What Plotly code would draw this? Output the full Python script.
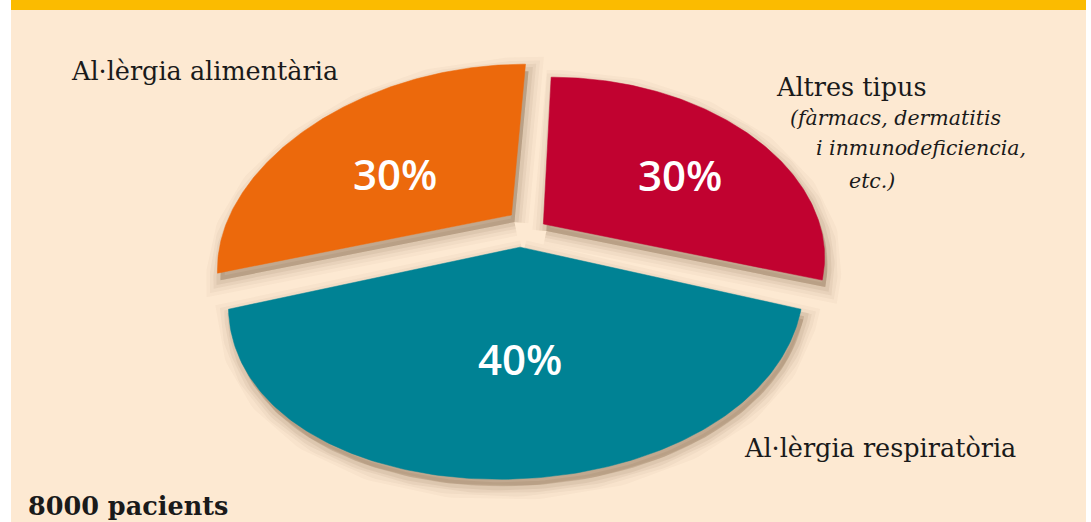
import numpy as np
import plotly.graph_objects as go

# ---- data ----
categories = ["Altres tipus", "Al·lèrgia respiratòria", "Al·lèrgia alimentària"]
values = [30, 40, 30]
total_patients = 8000
note_lines = ["(fàrmacs, dermatitis", "i inmunodeficiencia,", "etc.)"]

# ---- style ----
colors = ["#c10230", "#008294", "#ec690c"]
pulls = [(0.075, 0.0), (0.0, -0.125), (-0.04, 0.05)]    # explode offsets in pie plane
radii = [(0.97, 0.95), (0.95, 1.0), (1.0, 1.0)]          # drawn radius per slice (u, v)
start_angle = 90
CX, CY = 522, 224
A, S, KX = 284.8, 15, 0.233                               # horizontal projection
B, K = 181, 0.18                                          # vertical projection
W, H = 1091, 522
BG = "#fde9d2"
YELLOW = "#fbbb00"


def project(u, v):
    u = np.asarray(u, dtype=float)
    v = np.asarray(v, dtype=float)
    x = CX + (A * u + S * v) / (1 + KX * v)
    y = CY - B * v / (1 + K * v)
    return x, y


fig = go.Figure()

total = sum(values)
slices = []
ang = start_angle
for val, (pu, pv), (ru, rv) in zip(values, pulls, radii):
    span = 360.0 * val / total
    t = np.radians(np.linspace(ang, ang - span, 160))
    u = np.concatenate([[pu], pu + ru * np.cos(t), [pu]])
    v = np.concatenate([[pv], pv + rv * np.sin(t), [pv]])
    slices.append(project(u, v))
    ang -= span

# soft drop shadows
for x, y in slices:
    for lw, a in [(28, 0.03), (21, 0.04), (14, 0.055), (8, 0.07), (0, 0.09)]:
        fig.add_trace(go.Scatter(
            x=x + 3, y=y + 7, mode="lines", fill="toself",
            fillcolor=f"rgba(85,55,25,{a})",
            line=dict(color=f"rgba(85,55,25,{a})", width=lw),
            hoverinfo="skip", showlegend=False))

# slices
for (x, y), col, cat, val in zip(slices, colors, categories, values):
    fig.add_trace(go.Scatter(
        x=x, y=y, mode="lines", fill="toself", fillcolor=col,
        line=dict(color=col, width=0.5), name=cat,
        hovertemplate=f"{cat}: {val}%<extra></extra>", showlegend=False))

# percentage labels
pct_pos = [(680, 174), (520, 358), (395, 173)]
for val, (px, py) in zip(values, pct_pos):
    fig.add_annotation(x=px, y=py, text=f"{round(val / total * 100)}%",
                       showarrow=False, xanchor="center", yanchor="middle",
                       font=dict(family="Open Sans", size=42, color="white", weight=600))

SERIF = "DejaVu Serif"


def label(text, x, baseline, size, **font):
    fig.add_annotation(x=x, y=baseline - 0.36 * size, text=text, showarrow=False,
                       xanchor="left", yanchor="middle",
                       font=dict(family=SERIF, size=size, color="#1a1a1a", **font))


label(categories[2], 69, 80, 25.5)
label(categories[0], 774, 96, 25.5)
note_pos = [(788, 125), (814, 155), (847, 188)]
for line, (lx, ly) in zip(note_lines, note_pos):
    label(line, lx, ly, 20.5, style="italic")
label(categories[1], 742, 457, 25.5)
label(f"{total_patients} pacients", 26, 515, 25.5, weight="bold")

fig.update_layout(
    width=W, height=H, margin=dict(l=0, r=0, t=0, b=0),
    paper_bgcolor="white", plot_bgcolor="white",
    xaxis=dict(range=[0, W], visible=False, fixedrange=True),
    yaxis=dict(range=[H, 0], visible=False, fixedrange=True),
    shapes=[
        dict(type="rect", xref="x", yref="y", x0=11, x1=1086, y0=0, y1=H,
             fillcolor=BG, line=dict(width=0), layer="below"),
        dict(type="rect", xref="x", yref="y", x0=11, x1=1086, y0=0, y1=10,
             fillcolor=YELLOW, line=dict(width=0), layer="below"),
    ],
)

fig.write_html("out.html", config={"displayModeBar": False},
               post_script="document.body.style.margin='0';document.body.style.overflow='hidden';")
